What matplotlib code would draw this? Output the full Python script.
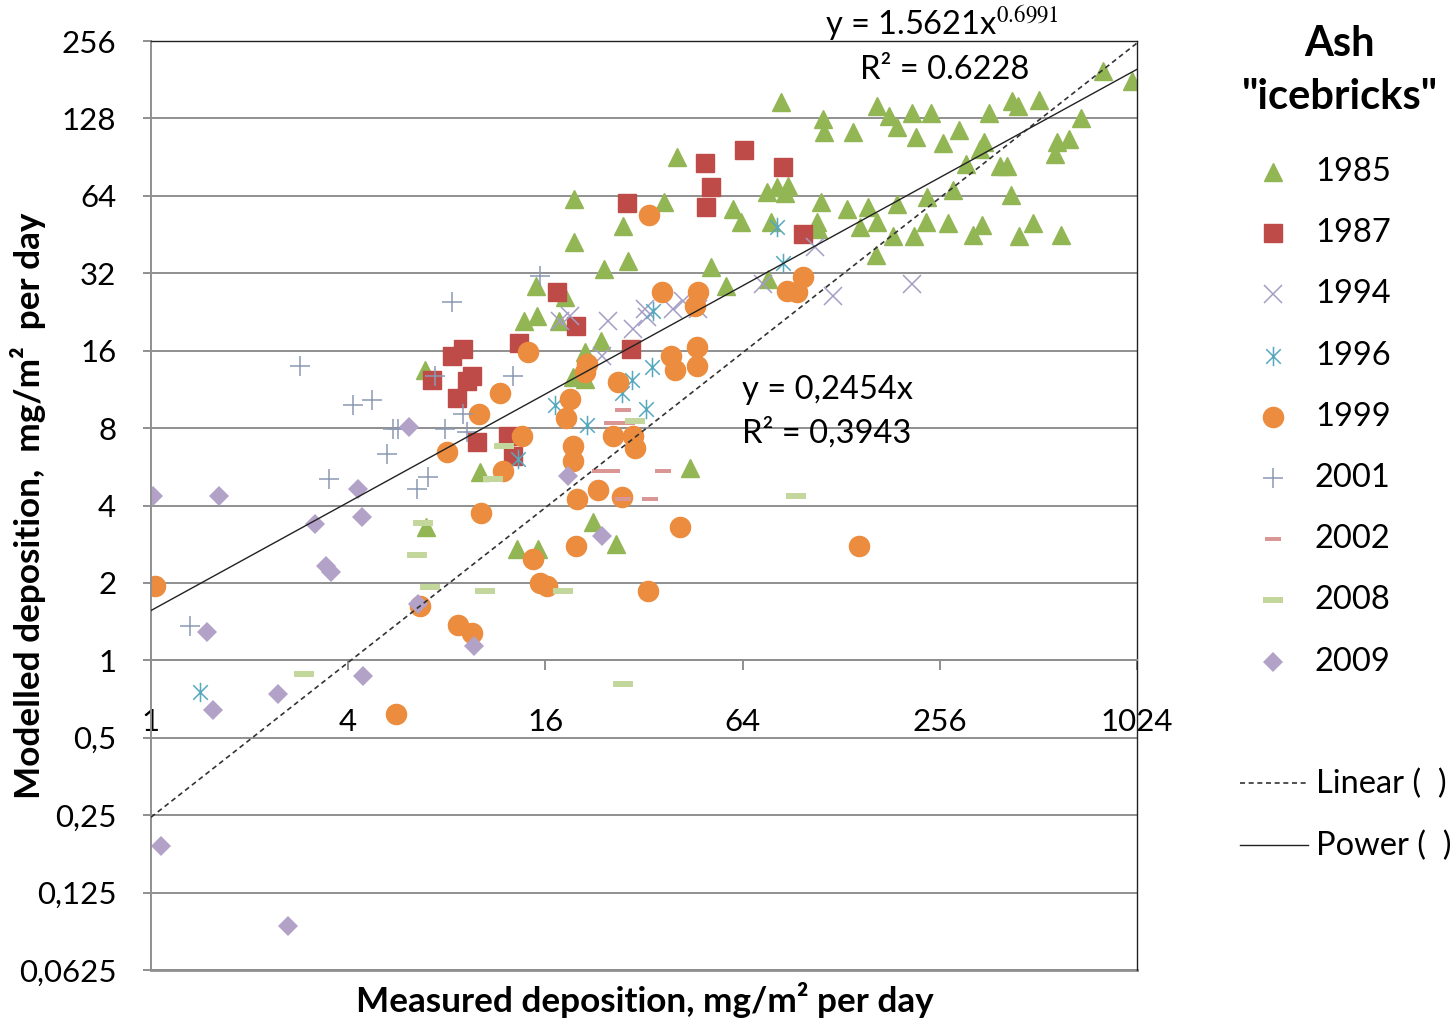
import matplotlib
matplotlib.use("Agg")
import matplotlib.pyplot as plt
import numpy as np
from matplotlib.path import Path
from matplotlib.ticker import FixedLocator, FixedFormatter, NullLocator

plt.rcParams["font.family"] = ["Lato", "DejaVu Sans"]
plt.rcParams["mathtext.fontset"] = "stix"

# measured (x) vs modelled (y) deposition, mg/m2 per day, one pair per year
x_1985 = [806, 988, 165, 179, 190, 211, 241, 139, 217, 262, 293, 362, 425, 444, 514, 691,
          349, 340, 308, 391, 411, 584, 635, 575, 422, 281, 234, 190, 133, 155, 146, 165,
          184, 213, 232, 271, 323, 345, 447, 493, 601, 164, 83.8, 112.6, 113.5, 40.4, 76,
          81.6, 88, 86.3, 111, 19.6, 36.8, 59.8, 63.3, 27.6, 78.2, 108, 108.8, 19.6, 28.6,
          24.2, 51.3, 76.5, 57, 15, 18.4, 13.8, 15.1, 17.6, 23.7, 21.1, 19.4, 21.1, 6.86,
          10.1, 6.91, 13.1, 15.2, 22.4, 26.3, 44.2]
y_1985 = [195, 179, 143, 131, 119, 134, 134, 113, 108, 102.6, 115, 134, 149, 143, 151, 128,
          104, 97, 85, 83.4, 83.4, 103.5, 106, 92.9, 64.4, 67.3, 63.2, 59.4, 56.8, 57.8, 48.3,
          50.5, 44.6, 44.6, 50.5, 50.1, 45, 49.2, 44.6, 50.1, 45, 37.6, 148, 127, 113, 90.4,
          66.1, 69.1, 69.8, 65.5, 60.4, 62.1, 60.4, 56.8, 50.5, 48.7, 50.5, 50.8, 47.4, 42.3,
          35.6, 33.2, 33.8, 30.3, 28.5, 28.5, 25.8, 20.8, 21.8, 20.8, 17.4, 15.8, 12.6, 12.4,
          13.5, 5.39, 3.29, 2.70, 2.70, 3.44, 2.83, 5.58]

x_1987 = [8.3, 8.97, 7.21, 8.6, 9.22, 9.55, 9.9, 12.3, 12.7, 13.3, 17.4, 19.8, 28.4, 29.2,
          49.1, 51.3, 49.5, 64.6, 85, 98]
y_1987 = [15.2, 16.2, 12.3, 10.5, 12.2, 12.7, 7.05, 7.43, 6.22, 17.1, 27, 19.9, 59.9, 16.2,
          85.7, 69.1, 57.8, 96.8, 82.7, 45.4]

x_1994 = [17.7, 19, 24.8, 29.6, 32.2, 32.7, 23.8, 39.2, 42.1, 46.8, 73.9, 106.5, 121, 211]
y_1994 = [20.8, 21.8, 20.8, 19.4, 23.2, 21.6, 15.2, 23.2, 24.9, 23.2, 29, 40.4, 26, 29]

x_1996 = [34.1, 33.9, 32.5, 29.4, 27.4, 21.4, 17.1, 13.2, 1.41, 81.6, 85]
y_1996 = [22.8, 13.8, 9.47, 12.3, 11, 8.2, 9.81, 6.05, 0.751, 48.3, 35]

x_1999 = [33.2, 14.2, 11.6, 10, 8.01, 11.9, 13.6, 19, 18.5, 19.4, 19.4, 21.4, 21.1, 26.7,
          25.7, 29.6, 30, 20, 23.2, 27.4, 10.2, 19.8, 14.7, 15.4, 16.2, 8.66, 9.55, 6.63,
          32.9, 5.6, 36.3, 46.8, 45.8, 87.5, 93.8, 98, 38.7, 39.8, 46.5, 46.5, 41.2, 145, 1.03]
y_1999 = [53.8, 15.8, 11, 9.05, 6.44, 5.43, 7.43, 10.4, 8.74, 6.8, 5.94, 14.2, 13.2, 12.1,
          7.43, 7.43, 6.68, 4.23, 4.58, 4.3, 3.73, 2.78, 2.47, 1.99, 1.94, 1.368, 1.274, 1.622,
          1.855, 0.616, 27, 27, 23.8, 27.2, 27, 30.9, 15.2, 13.5, 16.6, 14, 3.29, 2.78, 1.94]

x_2001 = [2.85, 4.14, 4.73, 5.48, 5.68, 5.26, 3.49, 15.4, 8.3, 7.36, 12.7, 8.97, 7.9, 9.22,
          7.01, 6.49, 1.316]
y_2001 = [14, 9.81, 10.3, 7.92, 7.92, 6.33, 5.06, 31.2, 24.7, 12.7, 12.8, 9.05, 7.92, 7.7,
          5.15, 4.62, 1.356]

x_2002 = [27.6, 25.6, 28.4, 23.5, 25.5, 27.6, 33.4, 36.6]
y_2002 = [9.38, 8.35, 8.35, 5.43, 5.43, 4.23, 4.23, 5.43]

x_2008 = [12, 30, 11.1, 6.77, 6.49, 7.11, 10.5, 18.1, 27.6, 93.2, 2.93]
y_2008 = [6.8, 8.5, 5.06, 3.41, 2.56, 1.92, 1.855, 1.855, 0.807, 4.34, 0.882]

x_2009 = [1.014, 1.613, 4.28, 4.41, 3.17, 3.42, 3.55, 1.482, 4.44, 2.44, 1.546, 1.073, 2.62,
          6.13, 18.8, 23.8, 6.53, 9.69]
y_2009 = [4.34, 4.34, 4.62, 3.6, 3.38, 2.32, 2.2, 1.285, 0.866, 0.738, 0.639, 0.189, 0.0924,
          8.06, 5.2, 3.04, 1.65, 1.134]

# trendlines (Excel fits shown on the chart)
power_a, power_b = 1.5621, 0.6991
linear_slope = 0.2454

x_ticks = [1, 4, 16, 64, 256, 1024]
x_tick_labels = ["1", "4", "16", "64", "256", "1024"]
y_ticks = [0.0625, 0.125, 0.25, 0.5, 1, 2, 4, 8, 16, 32, 64, 128, 256]
y_tick_labels = ["0,0625", "0,125", "0,25", "0,5", "1", "2", "4", "8", "16", "32", "64",
                 "128", "256"]

# markers
asterisk = Path([(0, -1), (0, 1), (-0.75, -0.75), (0.75, 0.75), (-0.75, 0.75), (0.75, -0.75)],
                [Path.MOVETO, Path.LINETO] * 3)
bar = Path([(-1, -0.27), (1, -0.27), (1, 0.27), (-1, 0.27), (-1, -0.27)],
           [Path.MOVETO, Path.LINETO, Path.LINETO, Path.LINETO, Path.CLOSEPOLY])

series = [
    ("1985", x_1985, y_1985, dict(marker="^", ms=13.5, color="#93B655")),
    ("1987", x_1987, y_1987, dict(marker="s", ms=13.5, color="#BE4B48")),
    ("1994", x_1994, y_1994, dict(marker="x", ms=13, mew=1.1, color="#A39DC6")),
    ("1996", x_1996, y_1996, dict(marker=asterisk, ms=14, mew=1.1, mfc="none", color="#55A8BE")),
    ("1999", x_1999, y_1999, dict(marker="o", ms=14.5, color="#EC8C3E")),
    ("2001", x_2001, y_2001, dict(marker="+", ms=14, mew=1.1, color="#8C99B3")),
    ("2002", x_2002, y_2002, dict(marker=bar, ms=11, mew=0, color="#D99694")),
    ("2008", x_2008, y_2008, dict(marker=bar, ms=14, mew=0, color="#C3D69B")),
    ("2009", x_2009, y_2009, dict(marker="D", ms=10.5, mew=0, color="#B3A2C7")),
]

grid_col = "#8f8f8f"
txt_size = 23.5

fig = plt.figure(figsize=(14.5, 10.18), dpi=100)
ax = fig.add_axes([151 / 1450, 1 - 970 / 1018, 986 / 1450, 929 / 1018])

for label, xs, ys, style in series:
    ax.plot(xs, ys, ls="none", **style)

xt = np.geomspace(1, 1024, 200)
ax.plot(xt, linear_slope * xt, color="#333333", lw=1.2, ls=(0, (3, 2.2)), zorder=5)
ax.plot(xt, power_a * xt ** power_b, color="#222222", lw=1.0, zorder=5)

ax.set_xscale("log", base=2)
ax.set_yscale("log", base=2)
ax.set_xlim(1, 1024)
ax.set_ylim(0.0625, 256)

ax.xaxis.set_major_locator(FixedLocator(x_ticks))
ax.xaxis.set_major_formatter(FixedFormatter(x_tick_labels))
ax.xaxis.set_minor_locator(NullLocator())
ax.yaxis.set_major_locator(FixedLocator(y_ticks))
ax.yaxis.set_major_formatter(FixedFormatter(y_tick_labels))
ax.yaxis.set_minor_locator(NullLocator())

ax.yaxis.grid(True, color=grid_col, lw=1.4)
ax.set_axisbelow(True)
ax.axhline(0.0625, color=grid_col, lw=2.0, clip_on=False, zorder=0)

ax.spines["bottom"].set_position(("data", 1))
ax.spines["bottom"].set_color(grid_col)
ax.spines["bottom"].set_linewidth(1.4)
ax.spines["left"].set_color(grid_col)
ax.spines["left"].set_linewidth(1.4)
for s in ("top", "right"):
    ax.spines[s].set_color("#222222")
    ax.spines[s].set_linewidth(1.0)

ax.tick_params(axis="x", direction="out", length=7.5, width=1.4, color=grid_col,
               labelsize=22.5, pad=27)
ax.tick_params(axis="y", direction="out", length=6, width=1.4, color=grid_col,
               labelsize=22.5, pad=19)

# overlay in pixel coordinates for labels, equations and legend
lax = fig.add_axes([0, 0, 1, 1])
lax.set_xlim(0, 1450)
lax.set_ylim(1018, 0)
lax.axis("off")

lax.text(28, 506, "Modelled deposition,  mg/m²  per day", rotation=90, ha="center",
         va="center", fontsize=25.3, fontweight="bold")
lax.text(645, 1000, "Measured deposition, mg/m² per day", ha="center", va="center",
         fontsize=25.3, fontweight="bold")

lax.text(825, 24, r"y = 1.5621x$^{0.6991}$", ha="left", va="center", fontsize=txt_size)
lax.text(860, 70, "R² = 0.6228", ha="left", va="center", fontsize=txt_size)
lax.text(742, 390, "y = 0,2454x", ha="left", va="center", fontsize=txt_size)
lax.text(742, 433, "R² = 0,3943", ha="left", va="center", fontsize=txt_size)

lax.text(1340, 44, "Ash", ha="center", va="center", fontsize=30, fontweight="bold")
lax.text(1340, 97, '"icebricks"', ha="center", va="center", fontsize=30, fontweight="bold")

leg_y0, leg_dy = 172, 61.2
for i, (label, xs, ys, style) in enumerate(series):
    yy = leg_y0 + i * leg_dy
    lax.plot([1273], [yy], ls="none", **style)
    lax.text(1315, yy, label, ha="left", va="center", fontsize=txt_size)

lax.plot([1240, 1308], [783, 783], color="#333333", lw=1.2, ls=(0, (3, 2.2)))
lax.text(1316, 784, "Linear (  )", ha="left", va="center", fontsize=txt_size)
lax.plot([1240, 1308], [845, 845], color="#222222", lw=1.0)
lax.text(1316, 846, "Power (  )", ha="left", va="center", fontsize=txt_size)

fig.savefig("out.png", dpi=100)
